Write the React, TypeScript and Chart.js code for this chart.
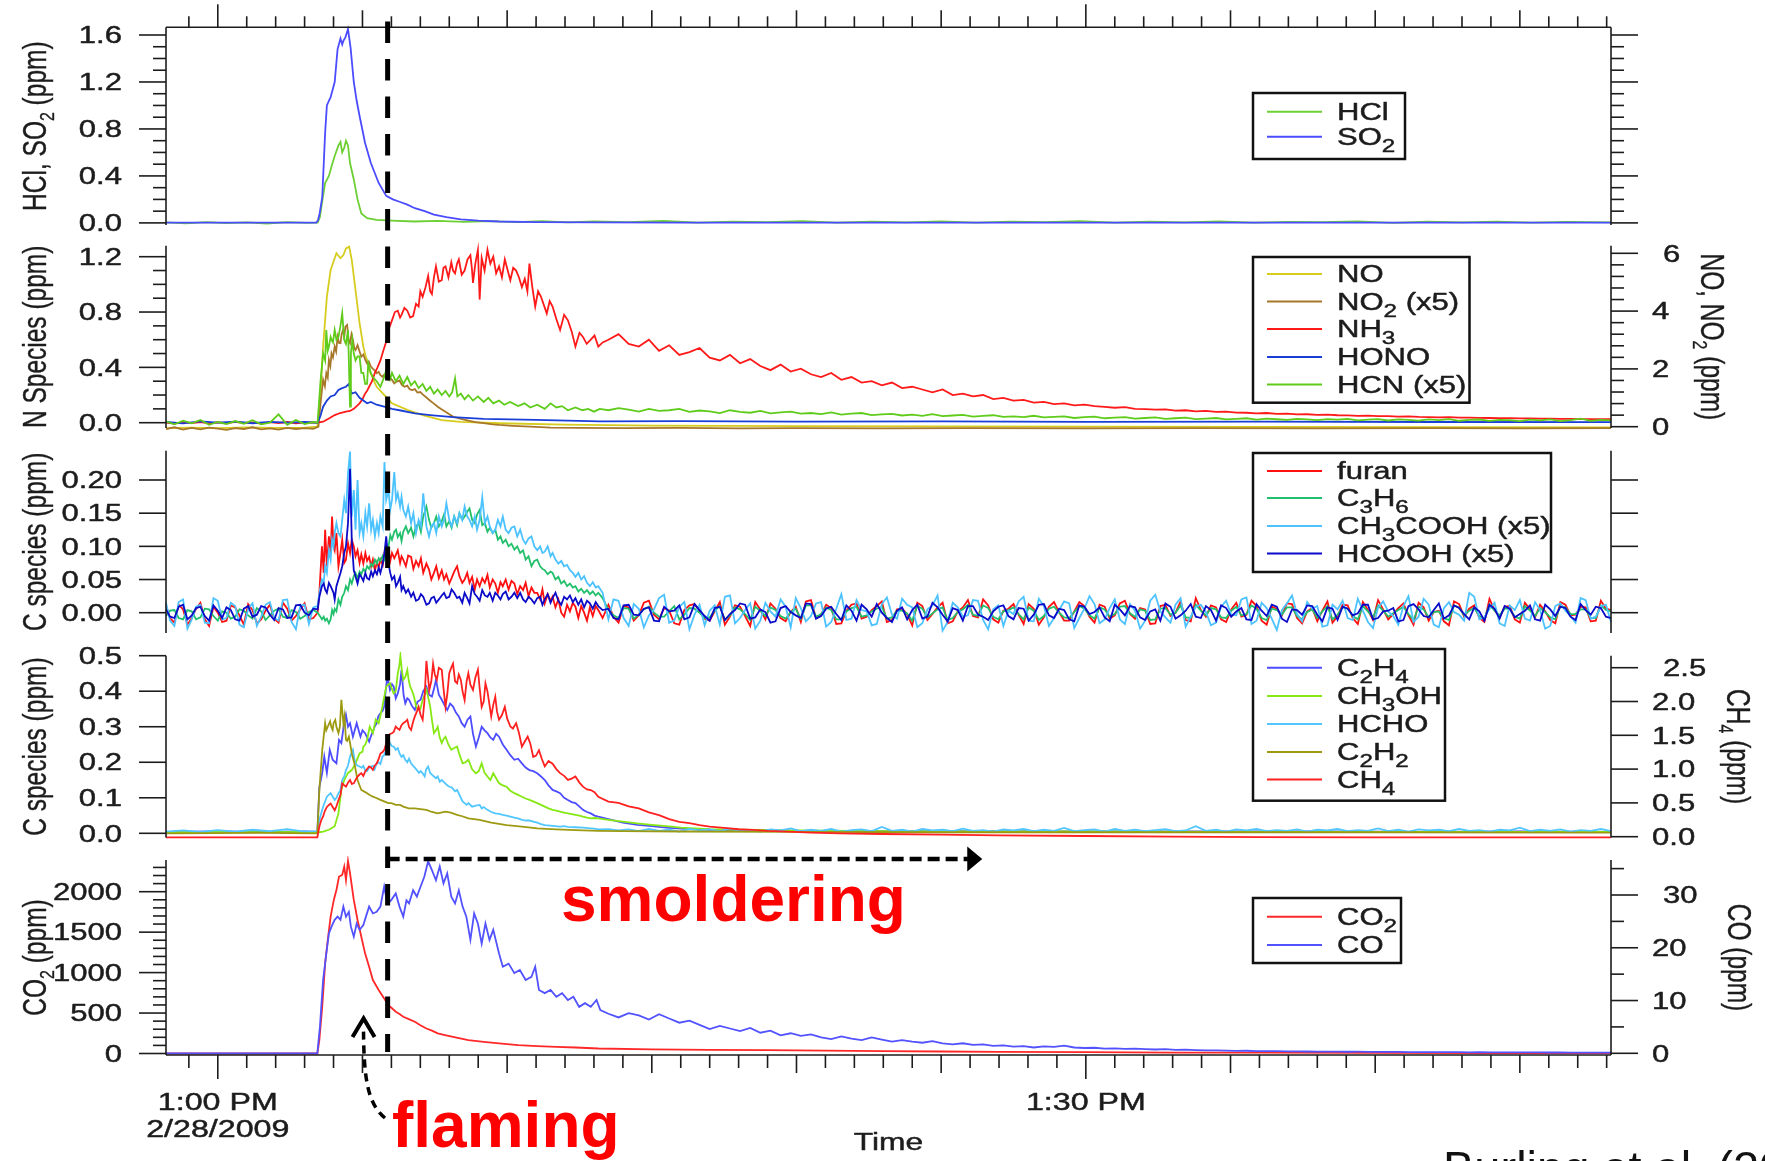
import React, { useEffect, useRef } from 'react';
import { Chart, registerables } from 'chart.js';

Chart.register(...registerables);

const W = 1765;
const H = 1161;
const PLOT_LEFT = 166;
const PLOT_RIGHT = 1611;
const X_MIN = -1.79; // minutes after 1:00 PM
const X_MAX = 48.15;
const FONT = '"Liberation Sans", Arial, Helvetica, sans-serif';
const INK = '#1c1c1c';

// ---------------- x axis ----------------
const X_LABEL_VALUES = [0, 30];
const X_LABEL_TEXT = [['1:00 PM', '2/28/2009'], ['1:30 PM']];
const X_TITLE = 'Time';
const FLAMING_END_MIN = 5.87;
const SMOLDER_ARROW_END_MIN = 26.42;

// ---------------- shared time grids (minutes) ----------------
const PRE_T = [-1.79, -1.5, -1.2, -0.9, -0.6, -0.3, 0, 0.3, 0.6, 0.9, 1.2, 1.5, 1.8, 2.1, 2.4, 2.7, 3.0, 3.3];
const PRE_MID_T = [-1.65, -1.35, -1.05, -0.75, -0.45, -0.15, 0.15, 0.45, 0.75, 1.05, 1.35, 1.65, 1.95, 2.25, 2.55, 2.85, 3.15];
const TAIL_T = [
  13.5, 13.85, 14.2, 14.55, 14.9, 15.25, 15.6, 15.95, 16.3, 16.65,
  17, 17.35, 17.7, 18.05, 18.4, 18.75, 19.1, 19.45, 19.8, 20.15,
  20.5, 20.85, 21.2, 21.55, 21.9, 22.25, 22.6, 22.95, 23.3, 23.65,
  24, 24.35, 24.7, 25.05, 25.4, 25.75, 26.1, 26.45, 26.8, 27.15,
  27.5, 27.85, 28.2, 28.55, 28.9, 29.25, 29.6, 29.95, 30.3, 30.65,
  31, 31.35, 31.7, 32.05, 32.4, 32.75, 33.1, 33.45, 33.8, 34.15,
  34.5, 34.85, 35.2, 35.55, 35.9, 36.25, 36.6, 36.95, 37.3, 37.65,
  38, 38.35, 38.7, 39.05, 39.4, 39.75, 40.1, 40.45, 40.8, 41.15,
  41.5, 41.85, 42.2, 42.55, 42.9, 43.25, 43.6, 43.95, 44.3, 44.65,
  45, 45.35, 45.7, 46.05, 46.4, 46.75, 47.1, 47.45, 47.8, 48.15,
];
const TAIL_MID_T = [
  13.675, 14.025, 14.375, 14.725, 15.075, 15.425, 15.775, 16.125, 16.475, 16.825,
  17.175, 17.525, 17.875, 18.225, 18.575, 18.925, 19.275, 19.625, 19.975, 20.325,
  20.675, 21.025, 21.375, 21.725, 22.075, 22.425, 22.775, 23.125, 23.475, 23.825,
  24.175, 24.525, 24.875, 25.225, 25.575, 25.925, 26.275, 26.625, 26.975, 27.325,
  27.675, 28.025, 28.375, 28.725, 29.075, 29.425, 29.775, 30.125, 30.475, 30.825,
  31.175, 31.525, 31.875, 32.225, 32.575, 32.925, 33.275, 33.625, 33.975, 34.325,
  34.675, 35.025, 35.375, 35.725, 36.075, 36.425, 36.775, 37.125, 37.475, 37.825,
  38.175, 38.525, 38.875, 39.225, 39.575, 39.925, 40.275, 40.625, 40.975, 41.325,
  41.675, 42.025, 42.375, 42.725, 43.075, 43.425, 43.775, 44.125, 44.475, 44.825,
  45.175, 45.525, 45.875, 46.225, 46.575, 46.925, 47.275, 47.625, 47.975,
];

// ---------------- panel 1: HCl, SO2 ----------------
const HCL: [number, number][] = [
  [-1.79, 0.004], [-1.1, -0.004], [-0.4, 0.006], [0.3, -0.002], [1.0, 0.005], [1.7, -0.005], [2.4, 0.007], [3.1, 0.0],
  [3.45, 0.003], [3.53, 0.05], [3.62, 0.2], [3.71, 0.34], [3.84, 0.4], [3.93, 0.48], [4.04, 0.57], [4.17, 0.66],
  [4.24, 0.69], [4.3, 0.6], [4.37, 0.64], [4.43, 0.7], [4.5, 0.66], [4.57, 0.51], [4.7, 0.37], [4.83, 0.2],
  [4.96, 0.08], [5.16, 0.04], [5.49, 0.025], [6.0, 0.02], [6.8, 0.012], [7.6, 0.018], [8.5, 0.008], [9.4, 0.015],
  [10.3, 0.006], [11.2, 0.014], [12.1, 0.004], [13.0, 0.012], [14.2, 0.007], [15.4, 0.016], [16.6, 0.003], [17.8, 0.011],
  [19.0, 0.006], [20.2, 0.015], [21.4, 0.002], [22.6, 0.01], [23.8, 0.005], [25.0, 0.013], [26.2, 0.002], [27.4, 0.011],
  [28.6, 0.006], [29.8, 0.014], [31.0, 0.003], [32.2, 0.01], [33.4, 0.005], [34.6, 0.012], [35.8, 0.002], [37.0, 0.009],
  [38.2, 0.006], [39.4, 0.013], [40.6, 0.001], [41.8, 0.01], [43.0, 0.004], [44.2, 0.011], [45.4, 0.002], [46.6, 0.009],
  [48.15, 0.005],
];
const SO2: [number, number][] = [
  [-1.79, 0.003], [3.4, 0.003], [3.46, 0.02], [3.52, 0.08], [3.61, 0.22], [3.71, 0.77], [3.77, 1.0], [3.84, 1.04],
  [3.9, 1.07], [4.04, 1.2], [4.14, 1.48], [4.24, 1.57], [4.3, 1.52], [4.34, 1.55], [4.41, 1.58], [4.5, 1.65],
  [4.59, 1.49], [4.7, 1.2], [4.8, 1.04], [4.9, 0.91], [5.09, 0.68], [5.29, 0.51], [5.56, 0.34], [5.82, 0.23],
  [6.05, 0.2], [6.28, 0.18], [6.55, 0.155], [6.81, 0.125], [7.15, 0.1], [7.47, 0.07], [7.9, 0.05], [8.4, 0.03],
  [9.0, 0.02], [9.72, 0.012], [11, 0.007], [13, 0.004], [16, 0.003], [20, 0.002], [30, 0.002], [48.15, 0.002],
];

// ---------------- panel 2: N species ----------------
const NO_RIGHT: [number, number][] = [
  [-1.79, -0.05], [-1.0, -0.03], [0, -0.05], [1.0, -0.02], [2.0, -0.04], [3.0, -0.03], [3.44, 0.0], [3.55, 1.2],
  [3.64, 2.77], [3.77, 4.5], [3.9, 5.42], [4.1, 6.0], [4.24, 5.83], [4.34, 5.94], [4.43, 6.17], [4.54, 6.23],
  [4.63, 5.77], [4.76, 4.73], [4.9, 3.58], [5.03, 2.77], [5.23, 1.96], [5.49, 1.38], [5.75, 1.1], [6.02, 0.81],
  [6.55, 0.58], [7.08, 0.4], [7.74, 0.23], [8.4, 0.17], [9.72, 0.12], [12, 0.07], [15, 0.04], [20, 0.02],
  [30, 0.0], [48.15, -0.02],
];
const NO2_X5_RIGHT: [number, number][] = [
  [-1.79, -0.08], [-1.5, -0.02], [-1.2, -0.1], [-0.9, -0.04], [-0.6, -0.09], [-0.3, -0.03], [0, -0.07], [0.3, -0.11],
  [0.6, -0.05], [0.9, -0.08], [1.2, -0.02], [1.5, -0.09], [1.8, -0.06], [2.1, -0.1], [2.4, -0.04], [2.7, -0.08],
  [3.0, -0.05], [3.3, -0.07], [3.48, 0.0], [3.56, 0.9], [3.64, 1.62], [3.7, 1.4], [3.75, 1.85], [3.8, 1.7],
  [3.84, 2.31], [3.89, 2.1], [3.93, 2.54], [3.98, 2.4], [4.04, 2.77], [4.09, 2.6], [4.14, 3.11], [4.19, 2.9],
  [4.24, 2.89], [4.28, 3.2], [4.33, 3.35], [4.37, 3.1], [4.41, 3.46], [4.47, 3.52], [4.52, 3.0], [4.57, 2.89],
  [4.62, 3.2], [4.67, 3.0], [4.72, 2.7], [4.76, 2.65], [4.83, 2.82], [4.9, 2.6], [4.96, 2.42], [5.03, 2.5],
  [5.1, 2.3], [5.16, 2.19], [5.22, 2.25], [5.29, 2.08], [5.36, 2.0], [5.42, 1.95], [5.49, 1.85], [5.56, 1.9],
  [5.62, 1.78], [5.69, 1.73], [5.75, 1.8], [5.82, 1.68], [5.89, 1.62], [5.95, 1.7], [6.02, 1.62], [6.1, 1.5],
  [6.18, 1.56], [6.28, 1.6], [6.36, 1.45], [6.45, 1.38], [6.55, 1.42], [6.63, 1.3], [6.72, 1.27], [6.81, 1.3],
  [6.9, 1.18], [7.0, 1.2], [7.08, 1.12], [7.2, 1.02], [7.34, 0.9], [7.47, 0.8], [7.6, 0.69], [7.73, 0.6],
  [7.87, 0.52], [8.0, 0.43], [8.13, 0.35], [8.4, 0.27], [8.66, 0.21], [8.9, 0.16], [9.19, 0.12], [9.5, 0.08],
  [9.72, 0.06], [10.2, 0.03], [10.8, 0.0], [11.5, -0.03], [12.5, -0.04], [14, -0.05], [16, -0.04], [18, -0.06],
  [20, -0.05], [23, -0.06], [26, -0.05], [30, -0.06], [34, -0.05], [38, -0.06], [42, -0.05], [45, -0.06],
  [48.15, -0.05],
];
const NH3_PRE = [0.0, -0.006, 0.004, -0.003, 0.005, -0.005, 0.002, -0.004, 0.006, -0.002, 0.003, -0.006, 0.004, -0.002, 0.005, -0.004, 0.002, 0.0];
const NH3_EVENT: [number, number][] = [
  [3.45, 0.0], [3.64, 0.007], [3.84, 0.03], [4.04, 0.055], [4.23, 0.07], [4.43, 0.08], [4.57, 0.085], [4.7, 0.1],
  [4.8, 0.12], [4.9, 0.14], [5.0, 0.17], [5.09, 0.21], [5.16, 0.23], [5.23, 0.26], [5.33, 0.3], [5.43, 0.36],
  [5.52, 0.4], [5.62, 0.45], [5.72, 0.52], [5.82, 0.585], [5.89, 0.67], [5.95, 0.7], [6.02, 0.74], [6.12, 0.8],
  [6.22, 0.81], [6.3, 0.76], [6.35, 0.78], [6.45, 0.83], [6.55, 0.81], [6.65, 0.76], [6.75, 0.77], [6.85, 0.86],
  [6.94, 0.84], [7.0, 0.95], [7.08, 0.91], [7.18, 0.98], [7.27, 1.06], [7.34, 0.95], [7.4, 0.93], [7.47, 1.05],
  [7.54, 1.13], [7.64, 1.02], [7.74, 1.03], [7.8, 1.12], [7.87, 1.13], [7.97, 1.05], [8.07, 1.16], [8.13, 1.1],
  [8.2, 1.08], [8.27, 1.15], [8.33, 1.18], [8.43, 1.07], [8.53, 1.1], [8.63, 1.18], [8.73, 1.21], [8.78, 1.12],
  [8.82, 1.01], [8.9, 1.15], [8.99, 1.25], [9.05, 0.89], [9.12, 1.19], [9.22, 1.1], [9.32, 1.25], [9.42, 1.15],
  [9.52, 1.2], [9.62, 1.08], [9.72, 1.13], [9.82, 1.05], [9.92, 1.18], [10.02, 1.1], [10.11, 1.03], [10.21, 1.12],
  [10.31, 1.1], [10.41, 1.05], [10.51, 0.98], [10.61, 1.04], [10.7, 0.95], [10.77, 1.15], [10.87, 0.98], [10.97, 0.84],
  [11.07, 0.95], [11.17, 0.91], [11.27, 0.85], [11.37, 0.79], [11.47, 0.88], [11.57, 0.84], [11.7, 0.75], [11.83, 0.67],
  [11.97, 0.78], [12.1, 0.74], [12.23, 0.66], [12.36, 0.55], [12.5, 0.65], [12.62, 0.62], [12.75, 0.57], [12.89, 0.6],
  [13.02, 0.63], [13.15, 0.55], [13.3, 0.58],
];
const NH3_TAIL = [
  0.6, 0.64, 0.57, 0.55, 0.6, 0.52, 0.56, 0.49, 0.51, 0.54,
  0.47, 0.45, 0.49, 0.43, 0.46, 0.41, 0.38, 0.42, 0.37, 0.39,
  0.35, 0.33, 0.36, 0.31, 0.33, 0.29, 0.3, 0.27, 0.29, 0.25,
  0.26, 0.24, 0.22, 0.24, 0.2, 0.21, 0.19, 0.2, 0.17, 0.18,
  0.16, 0.165, 0.145, 0.15, 0.135, 0.14, 0.125, 0.13, 0.12, 0.115,
  0.108, 0.112, 0.1, 0.098, 0.094, 0.096, 0.088, 0.09, 0.082, 0.085,
  0.078, 0.08, 0.073, 0.072, 0.068, 0.07, 0.064, 0.065, 0.06, 0.061,
  0.057, 0.058, 0.054, 0.053, 0.05, 0.051, 0.047, 0.048, 0.044, 0.045,
  0.042, 0.041, 0.039, 0.04, 0.037, 0.036, 0.035, 0.034, 0.033, 0.033,
  0.031, 0.031, 0.029, 0.029, 0.028, 0.027, 0.026, 0.026, 0.025, 0.025,
];
const HONO: [number, number][] = [
  [-1.79, 0.005], [-1.2, -0.005], [-0.6, 0.01], [0, 0.0], [0.6, 0.008], [1.2, -0.004], [1.8, 0.006], [2.4, 0.0],
  [3.0, 0.005], [3.45, 0.0], [3.55, 0.05], [3.64, 0.116], [3.77, 0.16], [3.9, 0.19], [4.04, 0.2], [4.17, 0.236],
  [4.3, 0.25], [4.43, 0.26], [4.53, 0.28], [4.63, 0.21], [4.76, 0.22], [4.9, 0.18], [5.03, 0.16], [5.16, 0.14],
  [5.29, 0.15], [5.49, 0.13], [5.75, 0.116], [6.02, 0.1], [6.28, 0.09], [6.81, 0.067], [7.34, 0.055], [8.13, 0.04],
  [9.19, 0.027], [11, 0.02], [13.2, 0.01], [16, 0.012], [20, 0.008], [25, 0.01], [30, 0.006], [36, 0.008],
  [42, 0.005], [48.15, 0.004],
];
const HCN_PRE = [0.01, -0.012, 0.015, -0.005, 0.02, -0.015, 0.005, -0.01, 0.012, -0.008, 0.018, -0.012, 0.0, 0.06, -0.015, 0.02, -0.01, 0.005];
const HCN_EVENT: [number, number][] = [
  [3.45, 0.0], [3.55, 0.3], [3.64, 0.5], [3.71, 0.45], [3.75, 0.67], [3.8, 0.52], [3.84, 0.55], [3.9, 0.62],
  [3.93, 0.6], [3.98, 0.58], [4.04, 0.67], [4.1, 0.6], [4.17, 0.62], [4.24, 0.7], [4.3, 0.79], [4.37, 0.6],
  [4.43, 0.57], [4.5, 0.67], [4.53, 0.45], [4.57, 0.116], [4.6, 0.5], [4.65, 0.6], [4.7, 0.5], [4.76, 0.45],
  [4.83, 0.48], [4.9, 0.48], [4.96, 0.36], [5.03, 0.36], [5.09, 0.28], [5.16, 0.28], [5.2, 0.43], [5.29, 0.36],
  [5.36, 0.33], [5.49, 0.3], [5.62, 0.26], [5.75, 0.33], [5.82, 0.38], [5.95, 0.31], [6.02, 0.36], [6.15, 0.3],
  [6.28, 0.34], [6.41, 0.28], [6.55, 0.33], [6.68, 0.27], [6.81, 0.3], [6.94, 0.25], [7.08, 0.28], [7.21, 0.23],
  [7.34, 0.26], [7.47, 0.21], [7.6, 0.24], [7.74, 0.2], [7.87, 0.23], [8.0, 0.19], [8.1, 0.22], [8.2, 0.32],
  [8.28, 0.19], [8.4, 0.21], [8.53, 0.17], [8.66, 0.2], [8.82, 0.16], [8.99, 0.19], [9.19, 0.15], [9.35, 0.18],
  [9.52, 0.14], [9.72, 0.16], [9.9, 0.13], [10.1, 0.15], [10.38, 0.12], [10.6, 0.14], [10.8, 0.11], [11.04, 0.13],
  [11.3, 0.1], [11.5, 0.14], [11.7, 0.11], [11.9, 0.12], [12.1, 0.09], [12.36, 0.11], [12.6, 0.09], [12.8, 0.1],
  [13.0, 0.08], [13.2, 0.1],
];
const HCN_TAIL = [
  0.09, 0.105, 0.095, 0.08, 0.1, 0.085, 0.09, 0.1, 0.078, 0.088,
  0.082, 0.07, 0.09, 0.078, 0.072, 0.085, 0.068, 0.075, 0.08, 0.066,
  0.07, 0.062, 0.075, 0.058, 0.065, 0.07, 0.055, 0.06, 0.064, 0.052,
  0.058, 0.05, 0.062, 0.048, 0.052, 0.056, 0.044, 0.05, 0.054, 0.042,
  0.046, 0.04, 0.05, 0.038, 0.042, 0.046, 0.034, 0.04, 0.044, 0.032,
  0.036, 0.04, 0.03, 0.034, 0.038, 0.028, 0.032, 0.036, 0.026, 0.03,
  0.034, 0.024, 0.028, 0.032, 0.022, 0.03, 0.025, 0.02, 0.028, 0.024,
  0.018, 0.026, 0.022, 0.028, 0.017, 0.022, 0.026, 0.016, 0.024, 0.02,
  0.015, 0.024, 0.019, 0.026, 0.014, 0.02, 0.023, 0.013, 0.021, 0.018,
  0.012, 0.022, 0.017, 0.024, 0.012, 0.019, 0.03, 0.013, 0.02, 0.017,
];

// ---------------- panel 3: C species (acids, furan, propene) ----------------
const P3_EVENT_T = [
  3.45, 3.51, 3.6, 3.66, 3.71, 3.77, 3.84, 3.9, 3.95, 4.0,
  4.04, 4.1, 4.17, 4.24, 4.3, 4.37, 4.43, 4.5, 4.57, 4.63,
  4.7, 4.76, 4.83, 4.9, 4.96, 5.03, 5.1, 5.16, 5.23, 5.3,
  5.36, 5.43, 5.5, 5.56, 5.62, 5.7, 5.76, 5.82, 5.9, 5.96,
  6.02, 6.1, 6.16, 6.22, 6.3, 6.35, 6.41, 6.5, 6.58, 6.68,
  6.76, 6.85, 6.94, 7.02, 7.1, 7.21, 7.3, 7.38, 7.47, 7.55,
  7.64, 7.74, 7.82, 7.9, 8.0, 8.08, 8.17, 8.27, 8.35, 8.45,
  8.53, 8.62, 8.7, 8.79, 8.88, 8.96, 9.05, 9.14, 9.23, 9.32,
  9.4, 9.5, 9.59, 9.68, 9.77, 9.85, 9.95, 10.05, 10.15, 10.25,
  10.35, 10.45, 10.55, 10.64, 10.74, 10.84, 10.94, 11.04, 11.14, 11.22,
  11.3, 11.4, 11.5, 11.57, 11.67, 11.77, 11.87, 11.97, 12.07, 12.17,
  12.27, 12.36, 12.46, 12.56, 12.66, 12.76, 12.86, 12.96, 13.06, 13.15,
  13.3,
];
const FURAN_PRE = [0.01, -0.015, 0.005, -0.008, 0.015, -0.02, 0.0, -0.012, 0.008, -0.018, 0.004, -0.01, 0.012, -0.015, 0.006, -0.005, 0.014, -0.008];
const FURAN_PRE_MID = [-0.008, 0.012, -0.018, 0.006, -0.01, 0.009, -0.014, 0.011, -0.004, 0.013, -0.016, 0.003, -0.009, 0.015, -0.012, 0.005, -0.01];
const FURAN_EVENT = [
  0.0, 0.03, 0.1, 0.06, 0.125, 0.07, 0.115, 0.09, 0.145, 0.1,
  0.094, 0.12, 0.07, 0.09, 0.11, 0.075, 0.08, 0.105, 0.09, 0.11,
  0.1, 0.085, 0.094, 0.075, 0.088, 0.074, 0.09, 0.078, 0.084, 0.07,
  0.08, 0.064, 0.076, 0.068, 0.08, 0.072, 0.09, 0.084, 0.095, 0.078,
  0.09, 0.082, 0.088, 0.094, 0.075, 0.085, 0.08, 0.07, 0.086, 0.084,
  0.066, 0.078, 0.07, 0.082, 0.06, 0.074, 0.065, 0.05, 0.06, 0.07,
  0.052, 0.064, 0.05, 0.058, 0.044, 0.052, 0.062, 0.07, 0.055, 0.045,
  0.05, 0.06, 0.045, 0.054, 0.035, 0.05, 0.04, 0.052, 0.045, 0.057,
  0.038, 0.05, 0.044, 0.03, 0.046, 0.04, 0.05, 0.035, 0.048, 0.044,
  0.028, 0.04, 0.034, 0.045, 0.025, 0.038, 0.03, 0.03, 0.02, 0.035,
  0.014, 0.028, 0.018, 0.024, 0.008, 0.02, 0.0, -0.006, 0.012, 0.002,
  0.015, 0.009, -0.008, 0.01, 0.0, -0.012, 0.008, -0.005, 0.01, 0.004,
  -0.008,
];
const FURAN_TAIL = [
  0.012, -0.015, 0.008, -0.004, 0.018, -0.01, 0.003, -0.018, 0.011, 0.002,
  -0.012, 0.016, -0.006, 0.009, -0.02, 0.005, 0.014, -0.008, 0.001, -0.014,
  0.019, -0.003, 0.007, -0.016, 0.012, -0.009, 0.004, 0.017, -0.011, 0.006,
  -0.019, 0.01, -0.002, 0.015, -0.013, 0.008, -0.005, 0.02, -0.01, 0.003,
  0.013, -0.017, 0.006, -0.007, 0.016, -0.012, 0.002, 0.01, -0.015, 0.009,
  -0.004, 0.018, -0.009, 0.005, -0.016, 0.012, 0.0, -0.011, 0.022, -0.006,
  0.008, -0.014, 0.015, -0.003, 0.01, -0.018, 0.006, 0.014, -0.008, 0.002,
  -0.013, 0.017, -0.005, 0.011, -0.017, 0.004, 0.019, -0.01, 0.007, -0.004,
  0.015, -0.012, 0.003, -0.019, 0.013, 0.006, -0.008, 0.021, -0.007, 0.01,
  -0.015, 0.005, 0.012, -0.011, 0.016, -0.004, 0.009, -0.013, 0.018, 0.004,
];
const FURAN_TAIL_MID = [
  -0.006, 0.01, -0.012, 0.015, -0.003, 0.007, -0.016, 0.004, 0.013, -0.009,
  0.002, -0.018, 0.011, -0.005, 0.016, -0.01, 0.006, -0.013, 0.009, 0.017,
  -0.008, 0.012, -0.017, 0.003, 0.014, -0.006, 0.01, -0.014, 0.005, -0.002,
  0.015, -0.011, 0.008, -0.016, 0.002, 0.019, -0.007, 0.011, -0.015, 0.006,
  -0.003, 0.013, -0.018, 0.009, 0.001, -0.012, 0.016, -0.006, 0.012, -0.009,
  0.014, -0.002, 0.007, -0.017, 0.01, -0.005, 0.017, -0.013, 0.004, 0.011,
  -0.01, 0.005, -0.006, 0.018, -0.012, 0.009, -0.004, 0.013, -0.016, 0.007,
  0.003, -0.015, 0.012, -0.008, 0.016, -0.011, 0.005, -0.002, 0.014, -0.018,
  0.008, 0.001, -0.013, 0.017, -0.006, 0.011, -0.014, 0.004, 0.009, -0.01,
  0.015, -0.007, 0.002, -0.016, 0.012, -0.003, 0.008, -0.012, 0.006,
];
const C3H6_PRE = [-0.005, 0.004, -0.01, 0.002, -0.007, 0.005, -0.012, 0.0, -0.006, 0.003, -0.009, 0.002, -0.004, 0.006, -0.008, 0.001, -0.005, 0.004];
const C3H6_PRE_MID = [0.003, -0.008, 0.004, -0.01, 0.006, -0.005, 0.002, -0.009, 0.005, -0.004, 0.007, -0.011, 0.003, -0.006, 0.004, -0.009, 0.001];
const C3H6_EVENT = [
  0.0, -0.004, -0.01, -0.006, -0.012, -0.009, -0.016, -0.01, 0.004, -0.002,
  0.006, 0.002, 0.02, 0.012, 0.024, 0.03, 0.04, 0.034, 0.05, 0.044,
  0.055, 0.06, 0.052, 0.062, 0.058, 0.066, 0.062, 0.07, 0.066, 0.074,
  0.07, 0.08, 0.074, 0.082, 0.078, 0.086, 0.08, 0.09, 0.1, 0.117,
  0.11, 0.122, 0.125, 0.114, 0.12, 0.108, 0.122, 0.13, 0.12, 0.128,
  0.115, 0.13, 0.135, 0.122, 0.145, 0.16, 0.14, 0.128, 0.135, 0.145,
  0.13, 0.138, 0.148, 0.13, 0.138, 0.128, 0.145, 0.132, 0.15, 0.14,
  0.145, 0.152, 0.157, 0.14, 0.135, 0.148, 0.155, 0.132, 0.135, 0.122,
  0.128, 0.12, 0.125, 0.11, 0.115, 0.105, 0.11, 0.1, 0.104, 0.095,
  0.1, 0.09, 0.094, 0.08, 0.085, 0.07, 0.078, 0.08, 0.07, 0.066,
  0.064, 0.058, 0.062, 0.06, 0.05, 0.054, 0.044, 0.048, 0.04, 0.044,
  0.038, 0.04, 0.032, 0.036, 0.03, 0.034, 0.028, 0.032, 0.026, 0.03,
  0.022,
];
const C3H6_TAIL = [
  0.004, -0.008, 0.006, -0.003, 0.009, -0.006, 0.002, -0.01, 0.007, 0.0,
  -0.007, 0.01, -0.004, 0.005, -0.011, 0.003, 0.008, -0.005, 0.001, -0.009,
  0.011, -0.002, 0.004, -0.01, 0.007, -0.006, 0.002, 0.009, -0.007, 0.003,
  -0.012, 0.006, -0.001, 0.008, -0.008, 0.005, -0.003, 0.011, -0.006, 0.002,
  0.008, -0.01, 0.003, -0.005, 0.009, -0.007, 0.001, 0.006, -0.009, 0.005,
  -0.002, 0.01, -0.006, 0.003, -0.01, 0.007, 0.0, -0.007, 0.012, -0.004,
  0.005, -0.008, 0.009, -0.002, 0.006, -0.011, 0.004, 0.008, -0.005, 0.001,
  -0.008, 0.01, -0.003, 0.006, -0.01, 0.002, 0.011, -0.006, 0.004, -0.002,
  0.009, -0.007, 0.002, -0.011, 0.008, 0.003, -0.005, 0.012, -0.004, 0.006,
  -0.009, 0.003, 0.007, -0.007, 0.01, -0.002, 0.005, -0.008, 0.011, 0.002,
];
const C3H6_TAIL_MID = [
  -0.004, 0.007, -0.009, 0.005, 0.0, -0.006, 0.01, -0.003, 0.006, -0.008,
  0.003, -0.011, 0.008, -0.002, 0.009, -0.005, 0.004, -0.009, 0.006, 0.011,
  -0.006, 0.008, -0.01, 0.002, 0.009, -0.004, 0.006, -0.009, 0.003, -0.001,
  0.01, -0.007, 0.005, -0.011, 0.001, 0.012, -0.005, 0.007, -0.01, 0.004,
  -0.002, 0.008, -0.011, 0.006, 0.0, -0.008, 0.01, -0.004, 0.008, -0.006,
  0.009, -0.001, 0.005, -0.011, 0.006, -0.003, 0.011, -0.008, 0.003, 0.007,
  -0.007, 0.003, -0.004, 0.011, -0.008, 0.006, -0.003, 0.008, -0.01, 0.005,
  0.002, -0.01, 0.008, -0.005, 0.01, -0.007, 0.003, -0.001, 0.009, -0.011,
  0.005, 0.001, -0.008, 0.011, -0.004, 0.007, -0.009, 0.003, 0.006, -0.006,
  0.01, -0.005, 0.001, -0.01, 0.008, -0.002, 0.005, -0.008, 0.004,
];
const CH3COOH_PRE = [0.015, -0.02, 0.02, -0.01, 0.012, -0.016, 0.018, -0.008, 0.01, -0.022, 0.014, -0.006, 0.016, -0.012, 0.02, -0.025, 0.012, 0.008];
const CH3COOH_PRE_MID = [-0.012, 0.016, -0.024, 0.009, -0.015, 0.022, -0.01, 0.015, -0.018, 0.006, -0.02, 0.012, -0.008, 0.019, -0.014, 0.01, -0.017];
const CH3COOH_EVENT = [
  0.01, 0.03, 0.05, 0.045, 0.07, 0.06, 0.094, 0.08, 0.11, 0.1,
  0.12, 0.135, 0.12, 0.115, 0.14, 0.17, 0.15, 0.21, 0.243, 0.145,
  0.185, 0.125, 0.2, 0.12, 0.135, 0.115, 0.15, 0.13, 0.165, 0.125,
  0.14, 0.115, 0.135, 0.12, 0.145, 0.13, 0.227, 0.17, 0.185, 0.155,
  0.17, 0.212, 0.17, 0.18, 0.16, 0.175, 0.155, 0.145, 0.16, 0.135,
  0.15, 0.12, 0.14, 0.13, 0.18, 0.13, 0.115, 0.13, 0.135, 0.12,
  0.145, 0.13, 0.14, 0.165, 0.14, 0.13, 0.145, 0.135, 0.15, 0.14,
  0.16, 0.145, 0.14, 0.13, 0.145, 0.125, 0.14, 0.174, 0.135, 0.145,
  0.13, 0.12, 0.125, 0.14, 0.13, 0.145, 0.125, 0.12, 0.128, 0.13,
  0.115, 0.125, 0.11, 0.104, 0.112, 0.115, 0.1, 0.094, 0.1, 0.09,
  0.092, 0.1, 0.085, 0.09, 0.08, 0.074, 0.078, 0.07, 0.072, 0.064,
  0.06, 0.054, 0.06, 0.05, 0.055, 0.045, 0.04, 0.046, 0.038, 0.04,
  0.03,
];
const CH3COOH_TAIL = [
  -0.01, 0.018, -0.02, 0.006, -0.004, 0.022, -0.015, 0.009, -0.025, 0.012,
  0.003, -0.018, 0.026, -0.008, 0.014, -0.012, 0.002, 0.02, -0.022, 0.007,
  -0.005, 0.016, -0.014, 0.028, -0.009, 0.004, -0.019, 0.013, -0.003, 0.021,
  0.008, -0.016, 0.011, -0.027, 0.015, -0.006, 0.019, -0.011, 0.005, -0.02,
  -0.002, 0.024, -0.013, 0.01, -0.008, 0.017, -0.023, 0.006, 0.013, -0.01,
  0.02, -0.017, 0.003, -0.012, 0.027, -0.007, 0.012, -0.021, 0.009, 0.001,
  -0.015, 0.018, -0.004, 0.023, -0.012, 0.007, -0.026, 0.014, -0.002, 0.016,
  0.01, -0.019, 0.005, -0.008, 0.021, -0.014, 0.008, 0.002, -0.018, 0.025,
  -0.006, 0.012, -0.022, 0.016, -0.003, 0.03, -0.01, 0.006, -0.016, 0.011,
  0.019, -0.012, 0.004, -0.02, 0.014, -0.005, 0.022, -0.009, 0.01, -0.014,
];
const CH3COOH_TAIL_MID = [
  0.02, -0.008, 0.013, -0.022, 0.005, 0.027, -0.012, 0.016, -0.003, -0.019,
  0.011, 0.024, -0.016, 0.004, -0.024, 0.015, -0.006, 0.009, 0.022, -0.013,
  0.014, -0.021, 0.006, -0.011, 0.019, 0.002, -0.017, 0.023, -0.009, 0.012,
  -0.022, 0.005, 0.026, -0.014, 0.008, -0.004, 0.018, -0.025, 0.011, 0.003,
  0.017, -0.012, 0.021, -0.02, 0.004, 0.014, -0.008, 0.025, -0.016, 0.007,
  -0.01, 0.013, -0.024, 0.018, 0.002, -0.015, 0.022, -0.006, 0.012, -0.019,
  0.009, -0.003, 0.02, -0.017, 0.015, -0.009, 0.004, 0.026, -0.013, 0.006,
  -0.021, 0.012, 0.018, -0.011, 0.003, -0.023, 0.017, -0.005, 0.01, -0.014,
  0.021, -0.018, 0.007, 0.001, -0.012, 0.024, -0.007, 0.015, -0.02, 0.004,
  -0.009, 0.016, -0.024, 0.01, 0.003, -0.015, 0.019, -0.006, 0.012,
];
const HCOOH_PRE = [0.005, -0.008, 0.012, -0.004, 0.009, -0.012, 0.003, 0.008, -0.01, 0.006, -0.006, 0.01, -0.003, 0.007, -0.008, 0.011, 0.0, 0.006];
const HCOOH_PRE_MID = [-0.006, 0.009, -0.01, 0.007, -0.005, 0.011, -0.008, 0.004, -0.012, 0.01, -0.003, 0.008, -0.011, 0.005, -0.007, 0.012, -0.004];
const HCOOH_EVENT = [
  0.005, 0.024, 0.04, 0.044, 0.035, 0.03, 0.045, 0.04, 0.035, 0.03,
  0.02, 0.04, 0.05, 0.06, 0.07, 0.09, 0.1, 0.135, 0.217, 0.11,
  0.064, 0.055, 0.044, 0.058, 0.054, 0.048, 0.06, 0.052, 0.05, 0.062,
  0.055, 0.064, 0.058, 0.068, 0.06, 0.074, 0.09, 0.115, 0.074, 0.06,
  0.05, 0.055, 0.04, 0.045, 0.054, 0.034, 0.04, 0.03, 0.035, 0.024,
  0.03, 0.018, 0.02, 0.028, 0.024, 0.012, 0.014, 0.022, 0.024, 0.015,
  0.02, 0.026, 0.03, 0.022, 0.024, 0.035, 0.03, 0.022, 0.024, 0.015,
  0.03, 0.022, 0.014, 0.04, 0.028, 0.024, 0.018, 0.034, 0.026, 0.024,
  0.03, 0.018, 0.03, 0.026, 0.02, 0.028, 0.032, 0.02, 0.024, 0.03,
  0.022, 0.03, 0.02, 0.016, 0.024, 0.02, 0.014, 0.022, 0.024, 0.012,
  0.02, 0.028, 0.015, 0.022, 0.03, 0.018, 0.012, 0.024, 0.02, 0.026,
  0.016, 0.022, 0.012, 0.02, 0.008, 0.018, 0.014, 0.006, 0.016, 0.01,
  0.004,
];
const HCOOH_TAIL = [
  0.006, -0.01, 0.012, -0.004, 0.008, -0.013, 0.002, 0.011, -0.007, 0.004,
  -0.012, 0.009, -0.002, 0.014, -0.009, 0.005, -0.015, 0.007, 0.001, -0.008,
  0.013, -0.005, 0.009, -0.011, 0.003, 0.012, -0.006, 0.0, -0.014, 0.008,
  0.004, -0.009, 0.015, -0.003, 0.007, -0.012, 0.01, -0.006, 0.002, 0.011,
  -0.01, 0.006, -0.003, 0.013, -0.008, 0.004, -0.013, 0.009, 0.001, -0.007,
  0.012, -0.004, 0.008, -0.011, 0.005, 0.014, -0.009, 0.003, -0.006, 0.01,
  -0.012, 0.007, 0.002, -0.01, 0.013, -0.005, 0.009, -0.014, 0.004, 0.011,
  -0.003, 0.008, -0.011, 0.006, -0.001, 0.012, -0.008, 0.003, -0.013, 0.01,
  0.005, -0.007, 0.014, -0.004, 0.007, -0.01, 0.002, 0.012, -0.009, 0.006,
  -0.002, 0.011, -0.012, 0.005, 0.009, -0.006, 0.013, -0.003, 0.007, -0.008,
];
const HCOOH_TAIL_MID = [
  -0.008, 0.011, -0.003, 0.006, -0.012, 0.009, 0.003, -0.01, 0.013, -0.005,
  0.007, -0.011, 0.004, 0.012, -0.007, 0.001, -0.013, 0.01, -0.004, 0.014,
  -0.009, 0.006, -0.002, 0.011, -0.012, 0.005, 0.013, -0.008, 0.003, -0.01,
  0.012, -0.006, 0.008, -0.013, 0.004, 0.01, -0.003, -0.011, 0.009, -0.005,
  0.007, -0.012, 0.012, -0.004, 0.006, -0.01, 0.011, -0.002, 0.008, -0.013,
  0.005, 0.01, -0.007, 0.002, -0.012, 0.009, -0.004, 0.013, -0.008, 0.004,
  0.011, -0.006, 0.007, -0.011, 0.003, 0.012, -0.009, 0.005, -0.003, 0.01,
  -0.013, 0.006, 0.009, -0.004, 0.012, -0.01, 0.002, 0.007, -0.011, 0.013,
  -0.005, 0.004, -0.009, 0.011, -0.002, 0.008, -0.012, 0.006, 0.01, -0.007,
  0.003, -0.01, 0.012, -0.005, 0.007, -0.011, 0.004, 0.009, -0.006,
];

// ---------------- panel 4: C species (C2H4, CH3OH, HCHO, C2H2, CH4) ----------------
const C2H4: [number, number][] = [
  [-1.79, 0.004], [0, 0.005], [1.5, 0.004], [3.0, 0.005], [3.44, 0.004], [3.51, 0.13], [3.61, 0.17], [3.68, 0.216],
  [3.77, 0.17], [3.87, 0.235], [3.97, 0.207], [4.1, 0.197], [4.19, 0.263], [4.27, 0.254], [4.35, 0.3], [4.43, 0.333],
  [4.5, 0.3], [4.57, 0.31], [4.67, 0.272], [4.8, 0.31], [4.93, 0.272], [5.0, 0.29], [5.09, 0.282], [5.16, 0.27],
  [5.23, 0.258], [5.3, 0.275], [5.36, 0.286], [5.42, 0.3], [5.49, 0.31], [5.55, 0.33], [5.62, 0.338], [5.7, 0.345],
  [5.75, 0.357], [5.8, 0.4], [5.86, 0.441], [5.95, 0.404], [6.02, 0.42], [6.08, 0.413], [6.15, 0.38], [6.22, 0.394],
  [6.3, 0.42], [6.35, 0.46], [6.42, 0.39], [6.48, 0.366], [6.55, 0.38], [6.61, 0.376], [6.7, 0.36], [6.81, 0.347],
  [6.9, 0.37], [7.01, 0.376], [7.1, 0.4], [7.21, 0.413], [7.3, 0.39], [7.4, 0.385], [7.48, 0.41], [7.54, 0.432],
  [7.64, 0.39], [7.74, 0.376], [7.84, 0.36], [7.93, 0.347], [8.03, 0.365], [8.13, 0.357], [8.23, 0.34], [8.33, 0.329],
  [8.43, 0.31], [8.53, 0.3], [8.63, 0.32], [8.73, 0.329], [8.82, 0.28], [8.92, 0.244], [9.02, 0.27], [9.12, 0.3],
  [9.22, 0.29], [9.32, 0.282], [9.42, 0.27], [9.52, 0.263], [9.62, 0.28], [9.72, 0.272], [9.85, 0.25], [9.98, 0.235],
  [10.11, 0.22], [10.25, 0.207], [10.38, 0.21], [10.51, 0.197], [10.64, 0.185], [10.77, 0.178], [10.9, 0.175], [11.04, 0.169],
  [11.17, 0.16], [11.3, 0.15], [11.43, 0.135], [11.57, 0.122], [11.7, 0.118], [11.83, 0.113], [11.97, 0.1], [12.1, 0.094],
  [12.23, 0.088], [12.36, 0.085], [12.5, 0.075], [12.62, 0.066], [12.76, 0.06], [12.89, 0.056], [13.02, 0.05], [13.15, 0.047],
  [13.5, 0.04], [14, 0.03], [14.5, 0.024], [15, 0.02], [15.5, 0.016], [16, 0.013], [17, 0.01], [18, 0.009],
  [20, 0.007], [23, 0.006], [26, 0.006], [30, 0.005], [34, 0.005], [38, 0.005], [42, 0.004], [45, 0.005],
  [48.15, 0.004],
];
const CH3OH: [number, number][] = [
  [-1.79, 0.003], [0, 0.004], [1.5, 0.003], [3.0, 0.004], [3.5, 0.003], [3.64, 0.005], [3.84, 0.01], [4.04, 0.02],
  [4.17, 0.056], [4.27, 0.122], [4.37, 0.15], [4.5, 0.17], [4.63, 0.178], [4.76, 0.197], [4.9, 0.225], [5.0, 0.23],
  [5.03, 0.244], [5.1, 0.25], [5.16, 0.263], [5.25, 0.3], [5.36, 0.282], [5.46, 0.32], [5.56, 0.31], [5.69, 0.357],
  [5.82, 0.413], [5.95, 0.423], [6.0, 0.41], [6.08, 0.394], [6.15, 0.4], [6.22, 0.45], [6.27, 0.47], [6.31, 0.5],
  [6.36, 0.46], [6.41, 0.432], [6.48, 0.44], [6.55, 0.46], [6.6, 0.43], [6.65, 0.413], [6.72, 0.4], [6.78, 0.385],
  [6.85, 0.36], [6.91, 0.347], [7.0, 0.35], [7.08, 0.376], [7.15, 0.39], [7.21, 0.404], [7.28, 0.38], [7.34, 0.357],
  [7.4, 0.32], [7.47, 0.282], [7.54, 0.29], [7.6, 0.3], [7.67, 0.27], [7.74, 0.254], [7.8, 0.265], [7.87, 0.272],
  [7.97, 0.25], [8.07, 0.235], [8.17, 0.24], [8.27, 0.244], [8.36, 0.22], [8.46, 0.197], [8.56, 0.2], [8.66, 0.207],
  [8.79, 0.18], [8.92, 0.169], [9.02, 0.175], [9.12, 0.197], [9.22, 0.17], [9.32, 0.16], [9.42, 0.15], [9.52, 0.169],
  [9.62, 0.155], [9.72, 0.141], [9.85, 0.135], [9.98, 0.131], [10.11, 0.12], [10.25, 0.113], [10.38, 0.108], [10.51, 0.103],
  [10.64, 0.098], [10.77, 0.094], [10.9, 0.09], [11.04, 0.085], [11.17, 0.08], [11.3, 0.075], [11.43, 0.07], [11.57, 0.066],
  [11.7, 0.064], [11.83, 0.061], [11.97, 0.058], [12.1, 0.056], [12.23, 0.054], [12.36, 0.052], [12.5, 0.05], [12.62, 0.047],
  [12.76, 0.044], [12.89, 0.042], [13.02, 0.043], [13.15, 0.042], [13.5, 0.038], [14, 0.033], [14.5, 0.028], [15, 0.024],
  [15.5, 0.02], [16, 0.016], [17, 0.012], [18, 0.01], [20, 0.008], [23, 0.006], [26, 0.005], [30, 0.005],
  [35, 0.004], [40, 0.004], [44, 0.004], [48.15, 0.004],
];
const HCHO_EVENT: [number, number][] = [
  [-1.79, 0.005], [-1.2, 0.008], [-0.6, 0.004], [0, 0.009], [0.6, 0.005], [1.2, 0.01], [1.8, 0.006], [2.4, 0.012],
  [3.0, 0.005], [3.44, 0.006], [3.51, 0.038], [3.64, 0.075], [3.77, 0.103], [3.9, 0.113], [4.04, 0.094], [4.1, 0.1],
  [4.17, 0.113], [4.23, 0.12], [4.3, 0.15], [4.37, 0.16], [4.43, 0.178], [4.5, 0.19], [4.57, 0.216], [4.67, 0.235],
  [4.72, 0.21], [4.76, 0.197], [4.83, 0.19], [4.9, 0.188], [4.97, 0.185], [5.03, 0.19], [5.09, 0.178], [5.16, 0.175],
  [5.23, 0.185], [5.29, 0.188], [5.36, 0.19], [5.42, 0.18], [5.49, 0.197], [5.56, 0.2], [5.62, 0.195], [5.69, 0.216],
  [5.75, 0.22], [5.82, 0.235], [5.88, 0.25], [5.95, 0.254], [6.02, 0.245], [6.08, 0.244], [6.15, 0.235], [6.22, 0.24],
  [6.28, 0.225], [6.35, 0.215], [6.41, 0.22], [6.48, 0.207], [6.55, 0.2], [6.61, 0.21], [6.68, 0.197], [6.75, 0.19],
  [6.81, 0.185], [6.88, 0.178], [6.95, 0.17], [7.01, 0.175], [7.08, 0.169], [7.15, 0.16], [7.2, 0.18], [7.27, 0.188],
  [7.34, 0.17], [7.4, 0.165], [7.47, 0.16], [7.54, 0.155], [7.6, 0.16], [7.67, 0.145], [7.74, 0.15], [7.87, 0.14],
  [7.93, 0.135], [8.0, 0.131], [8.07, 0.13], [8.13, 0.125], [8.2, 0.118], [8.27, 0.122], [8.4, 0.1], [8.46, 0.09],
  [8.53, 0.085], [8.6, 0.08], [8.66, 0.085], [8.79, 0.075], [8.92, 0.078], [9.05, 0.08], [9.12, 0.07], [9.19, 0.074],
  [9.32, 0.066], [9.45, 0.06], [9.59, 0.056], [9.72, 0.055], [9.85, 0.052], [9.98, 0.05], [10.11, 0.047], [10.25, 0.044],
  [10.38, 0.042], [10.51, 0.038], [10.64, 0.036], [10.77, 0.036], [10.9, 0.033], [11.04, 0.03], [11.17, 0.026], [11.3, 0.023],
  [11.57, 0.021], [11.83, 0.019], [11.97, 0.02], [12.1, 0.018], [12.36, 0.017], [12.62, 0.016], [12.89, 0.014], [13.02, 0.013],
  [13.15, 0.011],
];
const HCHO_TAIL = [
  0.012, 0.008, 0.011, 0.006, 0.012, 0.007, 0.01, 0.005, 0.012, 0.008,
  0.011, 0.006, 0.013, 0.007, 0.009, 0.005, 0.011, 0.008, 0.014, 0.006,
  0.01, 0.007, 0.012, 0.005, 0.009, 0.011, 0.006, 0.018, 0.007, 0.01,
  0.005, 0.012, 0.008, 0.01, 0.006, 0.013, 0.007, 0.009, 0.005, 0.011,
  0.008, 0.012, 0.006, 0.01, 0.007, 0.015, 0.006, 0.009, 0.011, 0.005,
  0.012, 0.007, 0.01, 0.006, 0.009, 0.012, 0.006, 0.008, 0.02, 0.007,
  0.01, 0.005, 0.011, 0.008, 0.012, 0.006, 0.009, 0.007, 0.011, 0.005,
  0.01, 0.008, 0.012, 0.006, 0.009, 0.007, 0.014, 0.006, 0.01, 0.005,
  0.011, 0.008, 0.01, 0.006, 0.012, 0.007, 0.009, 0.005, 0.01, 0.008,
  0.016, 0.006, 0.01, 0.007, 0.011, 0.005, 0.009, 0.007, 0.012, 0.006,
];
const C2H2: [number, number][] = [
  [-1.79, 0.0], [1.5, 0.001], [3.44, 0.0], [3.51, 0.122], [3.61, 0.235], [3.71, 0.31], [3.75, 0.29], [3.8, 0.3],
  [3.88, 0.315], [3.92, 0.3], [3.97, 0.291], [4.0, 0.31], [4.06, 0.319], [4.1, 0.3], [4.17, 0.282], [4.22, 0.3],
  [4.27, 0.376], [4.34, 0.31], [4.38, 0.33], [4.43, 0.263], [4.47, 0.26], [4.53, 0.272], [4.58, 0.25], [4.63, 0.225],
  [4.72, 0.197], [4.83, 0.15], [4.96, 0.122], [5.05, 0.118], [5.16, 0.113], [5.25, 0.108], [5.36, 0.103], [5.46, 0.1],
  [5.62, 0.094], [5.75, 0.09], [5.89, 0.085], [6.0, 0.085], [6.15, 0.08], [6.3, 0.08], [6.41, 0.075], [6.6, 0.07],
  [6.81, 0.07], [7.0, 0.068], [7.21, 0.066], [7.4, 0.06], [7.6, 0.056], [7.87, 0.061], [8.05, 0.058], [8.27, 0.052],
  [8.45, 0.048], [8.66, 0.042], [8.85, 0.04], [9.05, 0.038], [9.45, 0.03], [9.98, 0.023], [10.51, 0.019], [11.04, 0.014],
  [11.7, 0.011], [12.36, 0.009], [13.15, 0.007], [14, 0.006], [16, 0.005], [20, 0.004], [25, 0.003], [30, 0.003],
  [35, 0.003], [40, 0.003], [48.15, 0.002],
];
const CH4_RIGHT: [number, number][] = [
  [-1.79, -0.01], [3.44, -0.01], [3.51, 0.15], [3.58, 0.25], [3.64, 0.3], [3.7, 0.38], [3.77, 0.44], [3.84, 0.47],
  [3.9, 0.49], [3.97, 0.44], [4.04, 0.39], [4.1, 0.45], [4.17, 0.54], [4.24, 0.62], [4.3, 0.79], [4.37, 0.76],
  [4.43, 0.74], [4.5, 0.8], [4.57, 0.84], [4.63, 0.78], [4.7, 0.79], [4.76, 0.84], [4.83, 0.89], [4.9, 0.92],
  [4.96, 0.94], [5.03, 0.9], [5.09, 0.96], [5.16, 1.0], [5.23, 1.04], [5.3, 1.02], [5.36, 0.99], [5.42, 1.05],
  [5.49, 1.08], [5.56, 1.15], [5.62, 1.23], [5.69, 1.25], [5.75, 1.28], [5.82, 1.38], [5.89, 1.48], [5.95, 1.52],
  [6.02, 1.53], [6.08, 1.55], [6.15, 1.63], [6.22, 1.6], [6.28, 1.58], [6.35, 1.65], [6.41, 1.68], [6.48, 1.7],
  [6.55, 1.73], [6.61, 1.62], [6.68, 1.58], [6.75, 1.7], [6.81, 1.78], [6.88, 1.85], [6.94, 1.92], [7.01, 1.8],
  [7.08, 1.73], [7.14, 2.0], [7.21, 2.6], [7.31, 2.17], [7.38, 2.3], [7.44, 2.56], [7.5, 2.4], [7.57, 2.32],
  [7.64, 2.5], [7.74, 2.47], [7.8, 2.2], [7.87, 1.92], [7.93, 2.1], [8.0, 2.42], [8.07, 2.5], [8.13, 2.56],
  [8.2, 2.3], [8.27, 2.27], [8.33, 2.4], [8.4, 2.32], [8.46, 2.15], [8.53, 2.02], [8.6, 2.3], [8.66, 2.42],
  [8.73, 2.25], [8.82, 2.17], [8.9, 2.35], [8.99, 2.47], [9.05, 2.2], [9.12, 1.92], [9.19, 2.0], [9.25, 2.27],
  [9.32, 2.15], [9.45, 1.78], [9.52, 1.95], [9.59, 2.07], [9.65, 1.85], [9.72, 1.73], [9.82, 1.8], [9.92, 1.92],
  [10.0, 1.75], [10.11, 1.63], [10.2, 1.6], [10.31, 1.68], [10.4, 1.55], [10.51, 1.33], [10.6, 1.4], [10.71, 1.48],
  [10.8, 1.38], [10.9, 1.18], [11.0, 1.2], [11.1, 1.28], [11.2, 1.15], [11.3, 1.04], [11.43, 1.12], [11.57, 1.08],
  [11.7, 1.0], [11.83, 0.94], [11.97, 0.9], [12.1, 0.84], [12.23, 0.86], [12.36, 0.89], [12.5, 0.8], [12.62, 0.74],
  [12.76, 0.7], [12.89, 0.69], [13.02, 0.66], [13.15, 0.59], [13.5, 0.52], [13.85, 0.5], [14.2, 0.45], [14.55, 0.42],
  [14.9, 0.36], [15.25, 0.32], [15.6, 0.26], [15.95, 0.22], [16.3, 0.2], [16.65, 0.17], [17, 0.15], [17.5, 0.13],
  [18, 0.11], [18.5, 0.1], [19, 0.085], [19.7, 0.075], [20.5, 0.06], [21.5, 0.05], [23, 0.04], [25, 0.03],
  [27, 0.02], [30, 0.01], [33, 0.0], [36, -0.005], [40, -0.01], [44, -0.01], [48.15, -0.01],
];

// ---------------- panel 5: CO2, CO ----------------
const CO2: [number, number][] = [
  [-1.79, 0], [3.0, 0], [3.44, 0], [3.51, 165], [3.61, 578], [3.71, 1114], [3.8, 1403], [3.9, 1691],
  [4.01, 1898], [4.1, 2021], [4.19, 2186], [4.3, 2207], [4.37, 2310], [4.43, 2145], [4.5, 2380], [4.57, 2228],
  [4.7, 1898], [4.83, 1650], [4.96, 1444], [5.09, 1238], [5.23, 1073], [5.36, 908], [5.56, 784], [5.75, 681],
  [5.89, 598], [6.0, 565], [6.15, 516], [6.28, 488], [6.41, 454], [6.6, 425], [6.81, 392], [7.0, 350],
  [7.21, 309], [7.4, 282], [7.6, 248], [7.85, 228], [8.13, 206], [8.66, 165], [9.19, 144], [9.72, 124],
  [10.38, 103], [11.04, 91], [11.7, 83], [12.36, 74], [13.15, 62], [15, 52], [17, 45], [19, 41],
  [21, 35], [23, 30], [25, 25], [27, 21], [30, 16], [33, 12], [36, 10], [40, 8],
  [44, 6], [48.15, 5],
];
const CO_EVENT_RIGHT: [number, number][] = [
  [-1.79, 0], [3.0, 0], [3.44, 0], [3.53, 5.05], [3.64, 13.9], [3.75, 18.9], [3.84, 22.7], [3.93, 24.0],
  [4.04, 25.3], [4.14, 25.9], [4.24, 25.3], [4.34, 27.8], [4.43, 25.9], [4.53, 26.8], [4.6, 24.0], [4.7, 22.1],
  [4.8, 24.6], [4.9, 23.4], [5.03, 24.3], [5.12, 25.9], [5.23, 27.8], [5.36, 26.5], [5.49, 26.8], [5.62, 27.8],
  [5.75, 31.6], [5.86, 28.4], [5.99, 29.0], [6.15, 30.3], [6.28, 27.8], [6.41, 25.9], [6.52, 29.0], [6.61, 28.4],
  [6.75, 30.9], [6.88, 29.7], [7.01, 31.6], [7.14, 33.5], [7.27, 36.4], [7.4, 34.7], [7.54, 32.8], [7.67, 35.4],
  [7.8, 32.2], [7.93, 34.1], [8.07, 29.7], [8.2, 28.4], [8.33, 30.9], [8.46, 27.8], [8.59, 25.9], [8.73, 21.5],
  [8.86, 26.5], [8.99, 24.6], [9.12, 20.8], [9.25, 24.6], [9.39, 21.5], [9.52, 23.4], [9.72, 18.9], [9.85, 16.4],
  [10.05, 17.0], [10.25, 15.2], [10.44, 15.8], [10.64, 13.9], [10.84, 14.5], [10.97, 16.4], [11.1, 12.0], [11.3, 11.4],
  [11.5, 12.0], [11.7, 10.7], [11.9, 11.4], [12.1, 10.1], [12.29, 10.7], [12.49, 8.8], [12.69, 9.5], [12.89, 8.8],
  [13.09, 10.1], [13.22, 8.2],
];
const CO_TAIL_RIGHT = [
  7.5, 6.8, 7.6, 7.2, 6.4, 7.4, 6.6, 5.8, 6.2, 5.4,
  4.6, 5.2, 4.7, 4.2, 4.8, 3.9, 4.3, 3.4, 3.8, 3.3,
  3.6, 3.0, 2.7, 3.2, 2.8, 2.5, 3.0, 2.6, 2.2, 2.5,
  2.2, 2.0, 2.3, 1.9, 1.7, 1.9, 1.6, 1.7, 1.4, 1.5,
  1.25, 1.35, 1.1, 1.3, 1.2, 1.45, 1.1, 1.0, 1.05, 0.9,
  0.95, 0.82, 0.88, 0.8, 0.72, 0.78, 0.66, 0.68, 0.6, 0.56,
  0.55, 0.5, 0.46, 0.48, 0.42, 0.4, 0.41, 0.36, 0.38, 0.34,
  0.33, 0.31, 0.33, 0.29, 0.3, 0.27, 0.28, 0.26, 0.27, 0.24,
  0.24, 0.22, 0.23, 0.21, 0.21, 0.19, 0.2, 0.18, 0.18, 0.17,
  0.17, 0.16, 0.16, 0.15, 0.15, 0.14, 0.14, 0.13, 0.13, 0.13,
];

// ---------------- axis tick values / labels ----------------
const P1_TICKS = [0, 0.4, 0.8, 1.2, 1.6];
const P1_LABELS = ['0.0', '0.4', '0.8', '1.2', '1.6'];
const P2_LEFT_TICKS = [0, 0.4, 0.8, 1.2];
const P2_LEFT_LABELS = ['0.0', '0.4', '0.8', '1.2'];
const P2_RIGHT_TICKS = [0, 2, 4, 6];
const P2_RIGHT_LABELS = ['0', '2', '4', '6'];
const P3_TICKS = [0, 0.05, 0.1, 0.15, 0.2];
const P3_LABELS = ['0.00', '0.05', '0.10', '0.15', '0.20'];
const P4_LEFT_TICKS = [0, 0.1, 0.2, 0.3, 0.4, 0.5];
const P4_LEFT_LABELS = ['0.0', '0.1', '0.2', '0.3', '0.4', '0.5'];
const P4_RIGHT_TICKS = [0, 0.5, 1.0, 1.5, 2.0, 2.5];
const P4_RIGHT_LABELS = ['0.0', '0.5', '1.0', '1.5', '2.0', '2.5'];
const P5_LEFT_TICKS = [0, 500, 1000, 1500, 2000];
const P5_LEFT_LABELS = ['0', '500', '1000', '1500', '2000'];
const P5_RIGHT_TICKS = [0, 10, 20, 30];
const P5_RIGHT_LABELS = ['0', '10', '20', '30'];

// ---------------- helpers ----------------
type Pt = { x: number; y: number };
const gridPts = (t: number[], v: number[]): Pt[] =>
  t.map((x, i) => ({ x, y: v[i] })).filter((p) => Number.isFinite(p.y));
const pairPts = (d: [number, number][]): Pt[] => d.map(([x, y]) => ({ x, y }));
const joinPts = (...parts: Pt[][]): Pt[] => parts.flat().sort((a, b) => a.x - b.x);
const minorTicks = (start: number, end: number, step: number, skipEvery: number) => {
  const out: number[] = [];
  const n = Math.round((end - start) / step);
  for (let i = 0; i <= n; i++) {
    const v = +(start + i * step).toFixed(6);
    if (Math.abs(v / skipEvery - Math.round(v / skipEvery)) > 1e-6) out.push(v);
  }
  return out;
};
// value range so that v1 lands at pixel p1 and v2 at pixel p2, for a plot spanning top..bottom
const rangeFrom = (top: number, bottom: number, v1: number, p1: number, v2: number, p2: number) => {
  const k = (p1 - p2) / (v2 - v1);
  return { min: v1 - (bottom - p1) / k, max: v1 + (p1 - top) / k };
};

type Seg = { t: string; sub: boolean };
function parseRich(s: string): Seg[] {
  const out: Seg[] = [];
  let buf = '';
  for (let i = 0; i < s.length; i++) {
    if (s[i] === '_' && i + 1 < s.length) {
      if (buf) { out.push({ t: buf, sub: false }); buf = ''; }
      out.push({ t: s[i + 1], sub: true });
      i++;
    } else buf += s[i];
  }
  if (buf) out.push({ t: buf, sub: false });
  return out;
}
type TextOpt = {
  size: number; align?: 'left' | 'center' | 'right'; stretch?: number; scaleY?: number; rotate?: number;
  bold?: boolean; color?: string; subScale?: number; subDrop?: number; dy?: number; outline?: number;
};
function drawRich(ctx: CanvasRenderingContext2D, text: string, x: number, y: number, o: TextOpt) {
  const segs = parseRich(text);
  const subScale = o.subScale ?? 0.72;
  const subDrop = o.subDrop ?? 0.28;
  const fontFor = (sub: boolean) => `${o.bold ? 'bold ' : ''}${(sub ? o.size * subScale : o.size).toFixed(2)}px ${FONT}`;
  const widths = segs.map((s) => { ctx.font = fontFor(s.sub); return ctx.measureText(s.t).width; });
  const total = widths.reduce((a, b) => a + b, 0);
  ctx.save();
  ctx.translate(x, y);
  if (o.rotate) ctx.rotate(o.rotate);
  ctx.scale(o.stretch ?? 1, o.scaleY ?? 1);
  let cx = o.align === 'right' ? -total : o.align === 'center' ? -total / 2 : 0;
  const color = o.color ?? INK;
  ctx.fillStyle = color;
  ctx.strokeStyle = color;
  ctx.lineWidth = o.outline ?? 0;
  ctx.lineJoin = 'round';
  ctx.setLineDash([]);
  ctx.textAlign = 'left';
  ctx.textBaseline = 'alphabetic';
  segs.forEach((s, i) => {
    ctx.font = fontFor(s.sub);
    const ty = (o.dy ?? 0) + (s.sub ? o.size * subDrop : 0);
    ctx.fillText(s.t, cx, ty);
    if (o.outline) ctx.strokeText(s.t, cx, ty);
    cx += widths[i];
  });
  ctx.restore();
}

const TICK_FONT = 23;
const TICK_STRETCH = 1.35;
const TEXT_OUTLINE = 0.45;
const TITLE_FONT = 24.5;
const TITLE_WIDEN = 1.32;

type AxisDef = { anchors: [number, number, number, number]; major: number[]; minor: number[]; labels: string[] | null };
type SeriesDef = { label: string; color: string; axis: 'y' | 'yR'; data: Pt[] };
type PanelDef = {
  key: string; top: number; bottom: number; left: AxisDef; right: AxisDef;
  titleLeft: string; titleRight: string | null; titleRightX: number;
  series: SeriesDef[]; legendBox: [number, number, number, number]; legendRows: number[];
  xTop?: boolean; xBottom?: boolean;
};

const noisy = (pre: number[], preMid: number[], ev: number[], tail: number[], tailMid: number[]) =>
  joinPts(gridPts(PRE_T, pre), gridPts(PRE_MID_T, preMid), gridPts(P3_EVENT_T, ev), gridPts(TAIL_T, tail), gridPts(TAIL_MID_T, tailMid));

const PANELS: PanelDef[] = [
  {
    key: 'p1', top: 27.3, bottom: 225,
    left: { anchors: [0, 222.9, 1.6, 35], major: P1_TICKS, minor: minorTicks(0, 1.6, 0.1, 0.4), labels: P1_LABELS },
    right: { anchors: [0, 222.9, 1.6, 35], major: P1_TICKS, minor: minorTicks(0, 1.6, 0.1, 0.4), labels: null },
    titleLeft: 'HCl, SO_2 (ppm)', titleRight: null, titleRightX: 0,
    series: [
      { label: 'HCl', color: '#6ccf34', axis: 'y', data: pairPts(HCL) },
      { label: 'SO_2', color: '#4b4bff', axis: 'y', data: pairPts(SO2) },
    ],
    legendBox: [1253, 93, 1405, 159], legendRows: [111.7, 136.7], xTop: true,
  },
  {
    key: 'p2', top: 245.7, bottom: 428,
    left: { anchors: [0, 422.7, 1.2, 256.7], major: P2_LEFT_TICKS, minor: minorTicks(0, 1.2, 0.1, 0.4), labels: P2_LEFT_LABELS },
    right: { anchors: [0, 426.7, 6, 253.3], major: P2_RIGHT_TICKS, minor: minorTicks(0, 6, 0.4, 2), labels: P2_RIGHT_LABELS },
    titleLeft: 'N Species (ppm)', titleRight: 'NO, NO_2 (ppm)', titleRightX: 1709.5,
    series: [
      { label: 'NO', color: '#d6cc1e', axis: 'yR', data: pairPts(NO_RIGHT) },
      { label: 'NO_2 (x5)', color: '#a8782a', axis: 'yR', data: pairPts(NO2_X5_RIGHT) },
      { label: 'NH_3', color: '#ff1a1a', axis: 'y', data: joinPts(gridPts(PRE_T, NH3_PRE), pairPts(NH3_EVENT), gridPts(TAIL_T, NH3_TAIL)) },
      { label: 'HONO', color: '#1a3fd6', axis: 'y', data: pairPts(HONO) },
      { label: 'HCN (x5)', color: '#5fcc1c', axis: 'y', data: joinPts(gridPts(PRE_T, HCN_PRE), pairPts(HCN_EVENT), gridPts(TAIL_T, HCN_TAIL)) },
    ],
    legendBox: [1253, 257, 1469.5, 402.7], legendRows: [274, 301.5, 329, 357, 384.5],
  },
  {
    key: 'p3', top: 450.7, bottom: 633,
    left: { anchors: [0, 612.7, 0.2, 480], major: P3_TICKS, minor: [], labels: P3_LABELS },
    right: { anchors: [0, 612.7, 0.2, 480], major: P3_TICKS, minor: [], labels: null },
    titleLeft: 'C species (ppm)', titleRight: null, titleRightX: 0,
    series: [
      { label: 'furan', color: '#ff1010', axis: 'y', data: noisy(FURAN_PRE, FURAN_PRE_MID, FURAN_EVENT, FURAN_TAIL, FURAN_TAIL_MID) },
      { label: 'C_3H_6', color: '#22c06c', axis: 'y', data: noisy(C3H6_PRE, C3H6_PRE_MID, C3H6_EVENT, C3H6_TAIL, C3H6_TAIL_MID) },
      { label: 'CH_3COOH (x5)', color: '#4cc2ff', axis: 'y', data: noisy(CH3COOH_PRE, CH3COOH_PRE_MID, CH3COOH_EVENT, CH3COOH_TAIL, CH3COOH_TAIL_MID) },
      { label: 'HCOOH (x5)', color: '#0a0ac8', axis: 'y', data: noisy(HCOOH_PRE, HCOOH_PRE_MID, HCOOH_EVENT, HCOOH_TAIL, HCOOH_TAIL_MID) },
    ],
    legendBox: [1253, 453, 1551, 572], legendRows: [471, 498, 526, 553.5],
  },
  {
    key: 'p4', top: 655.7, bottom: 837.5,
    left: { anchors: [0, 833.3, 0.5, 655.7], major: P4_LEFT_TICKS, minor: [], labels: P4_LEFT_LABELS },
    right: { anchors: [0, 836.7, 2.5, 667.7], major: P4_RIGHT_TICKS, minor: [], labels: P4_RIGHT_LABELS },
    titleLeft: 'C species (ppm)', titleRight: 'CH_4 (ppm)', titleRightX: 1735,
    series: [
      { label: 'C_2H_4', color: '#4d4dff', axis: 'y', data: pairPts(C2H4) },
      { label: 'CH_3OH', color: '#86e814', axis: 'y', data: pairPts(CH3OH) },
      { label: 'HCHO', color: '#52c6ff', axis: 'y', data: joinPts(pairPts(HCHO_EVENT), gridPts(TAIL_T, HCHO_TAIL)) },
      { label: 'C_2H_2', color: '#9d9a12', axis: 'y', data: pairPts(C2H2) },
      { label: 'CH_4', color: '#ff2020', axis: 'yR', data: pairPts(CH4_RIGHT) },
    ],
    legendBox: [1253, 649, 1445, 800.7], legendRows: [667.7, 696, 724, 752, 779.5],
  },
  {
    key: 'p5', top: 860, bottom: 1055,
    left: { anchors: [0, 1053.5, 2000, 891.7], major: P5_LEFT_TICKS, minor: minorTicks(0, 2300, 100, 500), labels: P5_LEFT_LABELS },
    right: { anchors: [0, 1053.3, 30, 895], major: P5_RIGHT_TICKS, minor: [5, 15, 25, 35], labels: P5_RIGHT_LABELS },
    titleLeft: 'CO_2 (ppm)', titleRight: 'CO (ppm)', titleRightX: 1736.5,
    series: [
      { label: 'CO_2', color: '#ff2828', axis: 'y', data: pairPts(CO2) },
      { label: 'CO', color: '#5252ff', axis: 'yR', data: joinPts(pairPts(CO_EVENT_RIGHT), gridPts(TAIL_T, CO_TAIL_RIGHT)) },
    ],
    legendBox: [1253, 898, 1401, 963], legendRows: [916.7, 945], xBottom: true,
  },
];

function seg(ctx: CanvasRenderingContext2D, x1: number, y1: number, x2: number, y2: number) {
  ctx.beginPath();
  ctx.moveTo(x1, y1);
  ctx.lineTo(x2, y2);
  ctx.stroke();
}

function xTickLen(m: number, top: boolean) {
  if (m % 30 === 0) return top ? 23 : 24;
  if (m % 5 === 0) return top ? 17 : 18;
  return top ? 11 : 13;
}

const tickText = (align: 'left' | 'right' | 'center', stretch = TICK_STRETCH): TextOpt =>
  ({ size: TICK_FONT, stretch, align, outline: TEXT_OUTLINE });

function panelPlugin(p: PanelDef) {
  return {
    id: 'panelDecor_' + p.key,
    afterDraw(chart: any) {
      const ctx: CanvasRenderingContext2D = chart.ctx;
      const a = chart.chartArea;
      const sx = chart.scales.x;
      const sl = chart.scales.y;
      const sr = chart.scales.yR;
      ctx.save();
      ctx.strokeStyle = INK;
      ctx.lineWidth = 1.6;
      ctx.setLineDash([]);
      // axis lines
      seg(ctx, a.left, a.top, a.left, a.bottom);
      seg(ctx, a.right, a.top, a.right, a.bottom);
      // y ticks
      p.left.major.forEach((v) => { const y = sl.getPixelForValue(v); seg(ctx, a.left - 27, y, a.left, y); });
      p.left.minor.forEach((v) => { const y = sl.getPixelForValue(v); seg(ctx, a.left - 13, y, a.left, y); });
      p.right.major.forEach((v) => { const y = sr.getPixelForValue(v); seg(ctx, a.right, y, a.right + 27, y); });
      p.right.minor.forEach((v) => { const y = sr.getPixelForValue(v); seg(ctx, a.right, y, a.right + 13, y); });
      // y tick labels
      if (p.left.labels) {
        p.left.major.forEach((v, i) => drawRich(ctx, p.left.labels![i], 122, sl.getPixelForValue(v) + 8.2, tickText('right')));
      }
      if (p.right.labels) {
        const last = p.right.major.length - 1;
        p.right.major.forEach((v, i) => drawRich(ctx, p.right.labels![i], 1652 + (i === last ? 11 : 0), sr.getPixelForValue(v) + 8.2, tickText('left')));
      }
      // axis titles
      const midY = (a.top + a.bottom) / 2;
      const titleOpt = { size: TITLE_FONT, align: 'center' as const, dy: 0.26 * TITLE_FONT, subScale: 0.65, subDrop: 0.25, scaleY: TITLE_WIDEN, outline: 0.3 };
      drawRich(ctx, p.titleLeft, 37.8, midY, { ...titleOpt, rotate: -Math.PI / 2 });
      if (p.titleRight) drawRich(ctx, p.titleRight, p.titleRightX, midY, { ...titleOpt, rotate: Math.PI / 2 });
      // time axes
      ctx.strokeStyle = INK;
      ctx.lineWidth = 1.6;
      if (p.xTop) {
        seg(ctx, a.left, a.top, a.right, a.top);
        for (let m = -1; m <= 48; m++) {
          const x = sx.getPixelForValue(m);
          seg(ctx, x, a.top - xTickLen(m, true), x, a.top);
        }
      }
      if (p.xBottom) {
        seg(ctx, a.left, a.bottom, a.right, a.bottom);
        for (let m = -1; m <= 48; m++) {
          const x = sx.getPixelForValue(m);
          seg(ctx, x, a.bottom, x, a.bottom + xTickLen(m, false));
        }
        X_LABEL_VALUES.forEach((v, i) => {
          const x = sx.getPixelForValue(v);
          X_LABEL_TEXT[i].forEach((line, j) => drawRich(ctx, line, x, 1110 + j * 26.5, tickText('center', 1.4)));
        });
        drawRich(ctx, X_TITLE, (a.left + a.right) / 2, 1150, { size: 23, stretch: 1.38, align: 'center', outline: TEXT_OUTLINE });
      }
      // legend
      const [x1, y1, x2, y2] = p.legendBox;
      ctx.fillStyle = '#ffffff';
      ctx.fillRect(x1, y1, x2 - x1, y2 - y1);
      ctx.lineWidth = 2.5;
      ctx.strokeStyle = '#111';
      ctx.strokeRect(x1, y1, x2 - x1, y2 - y1);
      p.series.forEach((s, i) => {
        const y = p.legendRows[i];
        ctx.strokeStyle = s.color;
        ctx.lineWidth = 2;
        seg(ctx, 1267, y, 1322, y);
        drawRich(ctx, s.label, 1337, y + 8.2, { ...tickText('left'), subScale: 0.78, subDrop: 0.3 });
      });
      ctx.restore();
    },
  };
}

const annotationPlugin = {
  id: 'phaseAnnotations',
  afterDraw(chart: any) {
    const ctx: CanvasRenderingContext2D = chart.ctx;
    const sx = chart.scales.x;
    const xv = sx.getPixelForValue(FLAMING_END_MIN);
    const xTip = sx.getPixelForValue(SMOLDER_ARROW_END_MIN);
    ctx.save();
    ctx.strokeStyle = '#000';
    ctx.fillStyle = '#000';
    // vertical phase divider
    ctx.lineWidth = 5;
    ctx.setLineDash([21.5, 16]);
    seg(ctx, xv, 21.5, xv, 1052);
    // smoldering arrow
    ctx.lineWidth = 4.5;
    ctx.setLineDash([12, 6]);
    seg(ctx, xv, 859, xTip - 14, 859);
    ctx.setLineDash([]);
    ctx.beginPath();
    ctx.moveTo(xTip - 15, 846.5);
    ctx.lineTo(xTip, 859);
    ctx.lineTo(xTip - 15, 871.5);
    ctx.closePath();
    ctx.fill();
    // curved flaming arrow
    ctx.lineWidth = 3.5;
    ctx.setLineDash([8, 6]);
    ctx.beginPath();
    ctx.moveTo(385, 1118);
    ctx.bezierCurveTo(368, 1104, 363.5, 1080, 363.5, 1026);
    ctx.stroke();
    ctx.setLineDash([]);
    ctx.lineWidth = 4;
    ctx.beginPath();
    ctx.moveTo(352.5, 1037);
    ctx.lineTo(363.6, 1018.5);
    ctx.lineTo(374.6, 1037);
    ctx.stroke();
    ctx.restore();
    drawRich(ctx, 'smoldering', 561, 921, { size: 64, bold: true, color: '#ff0000' });
    drawRich(ctx, 'flaming', 392, 1147, { size: 64, bold: true, color: '#ff0000' });
    drawRich(ctx, 'Burling et al. (2010)', 1443, 1184, { size: 47, color: '#111' });
  },
};

function buildConfig(p: PanelDef, isLast: boolean): any {
  const L = rangeFrom(p.top, p.bottom, ...p.left.anchors);
  const R = rangeFrom(p.top, p.bottom, ...p.right.anchors);
  const n = p.series.length;
  return {
    type: 'line',
    data: {
      datasets: p.series.map((s, i) => ({
        label: s.label,
        data: s.data,
        borderColor: s.color,
        backgroundColor: s.color,
        borderWidth: 1.8,
        pointRadius: 0,
        fill: false,
        tension: 0,
        yAxisID: s.axis,
        order: n - i,
        clip: 4,
      })),
    },
    options: {
      responsive: false,
      maintainAspectRatio: false,
      animation: false,
      devicePixelRatio: 1,
      events: [],
      layout: { padding: { top: p.top, bottom: H - p.bottom, left: 0, right: 0 } },
      plugins: { legend: { display: false }, tooltip: { enabled: false }, title: { display: false } },
      scales: {
        x: { type: 'linear', min: X_MIN, max: X_MAX, display: false },
        y: {
          type: 'linear', position: 'left', min: L.min, max: L.max,
          ticks: { display: false }, grid: { display: false, drawTicks: false }, border: { display: false },
          afterFit: (s: any) => { s.width = PLOT_LEFT; },
        },
        yR: {
          type: 'linear', position: 'right', min: R.min, max: R.max,
          ticks: { display: false }, grid: { display: false, drawTicks: false }, border: { display: false },
          afterFit: (s: any) => { s.width = W - PLOT_RIGHT; },
        },
      },
    },
    plugins: isLast ? [panelPlugin(p), annotationPlugin] : [panelPlugin(p)],
  };
}

export default function App() {
  const refs = useRef<(HTMLCanvasElement | null)[]>([]);
  useEffect(() => {
    const charts = PANELS.map((p, i) => new Chart(refs.current[i] as HTMLCanvasElement, buildConfig(p, i === PANELS.length - 1)));
    return () => charts.forEach((c) => c.destroy());
  }, []);
  return (
    <div style={{ position: 'absolute', left: 0, top: 0, width: W, height: H, overflow: 'hidden', background: '#ffffff' }}>
      {PANELS.map((p, i) => (
        <canvas
          key={p.key}
          ref={(el) => { refs.current[i] = el; }}
          width={W}
          height={H}
          style={{ position: 'absolute', left: 0, top: 0, width: W, height: H }}
        />
      ))}
    </div>
  );
}
